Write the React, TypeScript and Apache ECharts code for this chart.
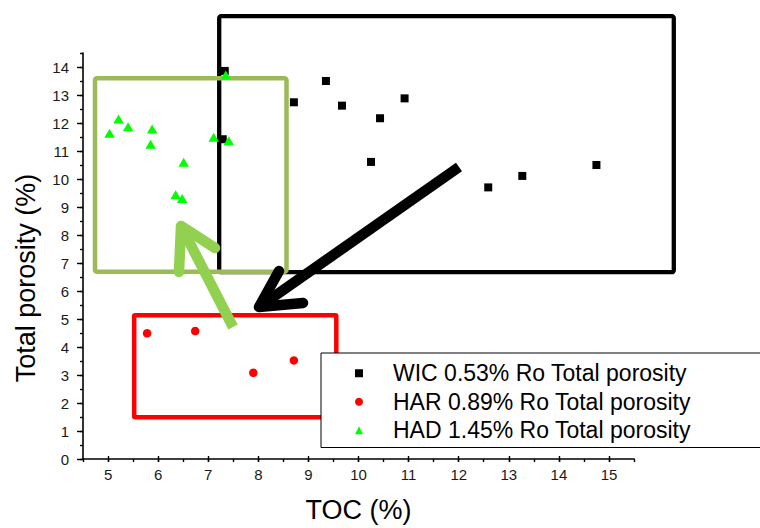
import React, { useEffect, useRef } from "react";
import * as echarts from "echarts";

// ---- data ----
const wicX = [7.33, 7.29, 8.71, 9.35, 9.67, 10.92, 10.43, 10.25, 12.59, 13.27, 14.75];
const wicY = [13.86, 11.42, 12.74, 13.5, 12.62, 12.88, 12.17, 10.61, 9.7, 10.11, 10.5];
const harX = [5.78, 6.74, 7.9, 8.71];
const harY = [4.49, 4.57, 3.08, 3.52];
const hadX = [5.03, 5.21, 5.4, 5.88, 5.85, 6.51, 6.35, 6.48, 7.11, 7.41, 7.35];
const hadY = [11.63, 12.14, 11.87, 11.79, 11.24, 10.6, 9.44, 9.3, 11.49, 11.37, 13.71];

const seriesNames = [
  "WIC 0.53% Ro Total porosity",
  "HAR 0.89% Ro Total porosity",
  "HAD 1.45% Ro Total porosity",
];
const xTitle = "TOC (%)";
const yTitle = "Total porosity (%)";
const xRange = [4.5, 15.5];
const yRange = [0, 14.5];
const xLabelRange = [5, 15];
const yLabelRange = [0, 14];

const FONT = "'Liberation Sans', Arial, Helvetica, sans-serif";
const AX = "#000";

const pairs = (xs: number[], ys: number[]) => xs.map((x, i) => [x, ys[i]]);

export default function App() {
  const ref = useRef<HTMLDivElement>(null);
  useEffect(() => {
    if (!ref.current) return;
    const chart = echarts.init(ref.current, null, { renderer: "svg" });
    const hidden = { show: false };
    const option: any = {
      animation: false,
      backgroundColor: "#fff",
      grid: [
        { left: 83, right: 126, top: 53, bottom: 69 },
        { left: 108.05, right: 150.95, top: 53, bottom: 69 },
        { left: 83, right: 126, top: 67, bottom: 69 },
      ],
      xAxis: [
        {
          type: "value", gridIndex: 0, min: xRange[0], max: xRange[1], interval: 0.5,
          axisLine: { show: true, onZero: false, lineStyle: { color: AX, width: 1.6 } },
          axisTick: { show: true, length: 3, lineStyle: { color: AX, width: 1.4 } },
          axisLabel: { show: false }, splitLine: { show: false },
        },
        {
          type: "value", gridIndex: 1, min: xLabelRange[0], max: xLabelRange[1], interval: 1,
          axisLine: { show: false },
          axisTick: { show: true, length: 6, lineStyle: { color: AX, width: 1.4 } },
          axisLabel: { show: true, color: "#1a1a1a", fontSize: 15, fontFamily: FONT, margin: 11 },
          splitLine: { show: false },
          name: xTitle, nameLocation: "middle", nameGap: 40,
          nameTextStyle: { color: "#000", fontSize: 27, fontFamily: FONT },
        },
        { type: "value", gridIndex: 2, min: xRange[0], max: xRange[1], ...hidden },
      ],
      yAxis: [
        {
          type: "value", gridIndex: 0, min: yRange[0], max: yRange[1], interval: 0.5,
          axisLine: { show: true, onZero: false, lineStyle: { color: AX, width: 1.6 } },
          axisTick: { show: true, length: 3, lineStyle: { color: AX, width: 1.4 } },
          axisLabel: { show: false }, splitLine: { show: false },
        },
        { type: "value", gridIndex: 1, min: yRange[0], max: yRange[1], ...hidden },
        {
          type: "value", gridIndex: 2, min: yLabelRange[0], max: yLabelRange[1], interval: 1,
          axisLine: { show: false },
          axisTick: { show: true, length: 6, lineStyle: { color: AX, width: 1.4 } },
          axisLabel: { show: true, color: "#1a1a1a", fontSize: 15, fontFamily: FONT, margin: 14 },
          splitLine: { show: false },
        },
      ],
      legend: {
        orient: "vertical",
        left: 321,
        top: 353,
        padding: [6, 140, 3, 34],
        itemGap: 0,
        itemWidth: 8,
        itemHeight: 8,
        borderColor: "#000",
        borderWidth: 1,
        backgroundColor: "#fff",
        textStyle: {
          color: "#000", fontSize: 23, fontFamily: FONT, lineHeight: 28.5,
          padding: [0, 0, 0, 25],
        },
        data: [
          { name: seriesNames[0], icon: "rect", itemStyle: { color: "#000" } },
          { name: seriesNames[1], icon: "circle", itemStyle: { color: "#ff0000" } },
          { name: seriesNames[2], icon: "triangle", itemStyle: { color: "#00ff00" } },
        ],
      },
      series: [
        {
          name: seriesNames[0], type: "scatter", xAxisIndex: 0, yAxisIndex: 0,
          symbol: "rect", symbolSize: 8, itemStyle: { color: "#000", opacity: 1 },
          data: pairs(wicX, wicY),
        },
        {
          name: seriesNames[1], type: "scatter", xAxisIndex: 0, yAxisIndex: 0,
          symbol: "circle", symbolSize: 8.5, itemStyle: { color: "#ff0000", opacity: 1 },
          data: pairs(harX, harY),
        },
        {
          name: seriesNames[2], type: "scatter", xAxisIndex: 0, yAxisIndex: 0,
          symbol: "triangle", symbolSize: [10.5, 9], itemStyle: { color: "#00ff00", opacity: 1 },
          data: pairs(hadX, hadY),
        },
      ],
      graphic: [
        {
          type: "rect", z: 1, silent: true,
          shape: { x: 219.2, y: 16.2, width: 454.6, height: 256, r: 2 },
          style: { fill: "none", stroke: "#000", lineWidth: 4.3 },
        },
        {
          type: "rect", z: 1, silent: true,
          shape: { x: 95, y: 78.3, width: 191.5, height: 193.4, r: 2 },
          style: { fill: "none", stroke: "#9bbb59", lineWidth: 4.5 },
        },
        {
          type: "rect", z: 1, silent: true,
          shape: { x: 134.2, y: 315.3, width: 202.1, height: 101.9, r: 1 },
          style: { fill: "none", stroke: "#ff0000", lineWidth: 4.5 },
        },
        // black arrow
        {
          type: "line", z: 10, silent: true,
          shape: { x1: 459, y1: 167, x2: 259, y2: 307 },
          style: { stroke: "#000", lineWidth: 10.5, lineCap: "butt" },
        },
        {
          type: "polyline", z: 10, silent: true,
          shape: { points: [[279, 271], [259, 307], [303, 303]] },
          style: { stroke: "#000", lineWidth: 10.5, lineCap: "round", lineJoin: "round", fill: "none" },
        },
        // green arrow
        {
          type: "line", z: 10, silent: true,
          shape: { x1: 233, y1: 327, x2: 181, y2: 226 },
          style: { stroke: "#92d050", lineWidth: 10.5, lineCap: "butt" },
        },
        {
          type: "polyline", z: 10, silent: true,
          shape: { points: [[215, 248], [181, 226], [179, 272]] },
          style: { stroke: "#92d050", lineWidth: 10.5, lineCap: "round", lineJoin: "round", fill: "none" },
        },
        // y axis title
        {
          type: "text", z: 10, silent: true,
          x: 26, y: 278, rotation: Math.PI / 2,
          style: {
            text: yTitle, fill: "#000", font: `27px ${FONT}`,
            textAlign: "center", textVerticalAlign: "middle",
          },
        },
      ],
    };
    chart.setOption(option);
    return () => chart.dispose();
  }, []);
  return (
    <div
      ref={ref}
      style={{ position: "absolute", left: 0, top: 0, width: 760, height: 528 }}
    />
  );
}
